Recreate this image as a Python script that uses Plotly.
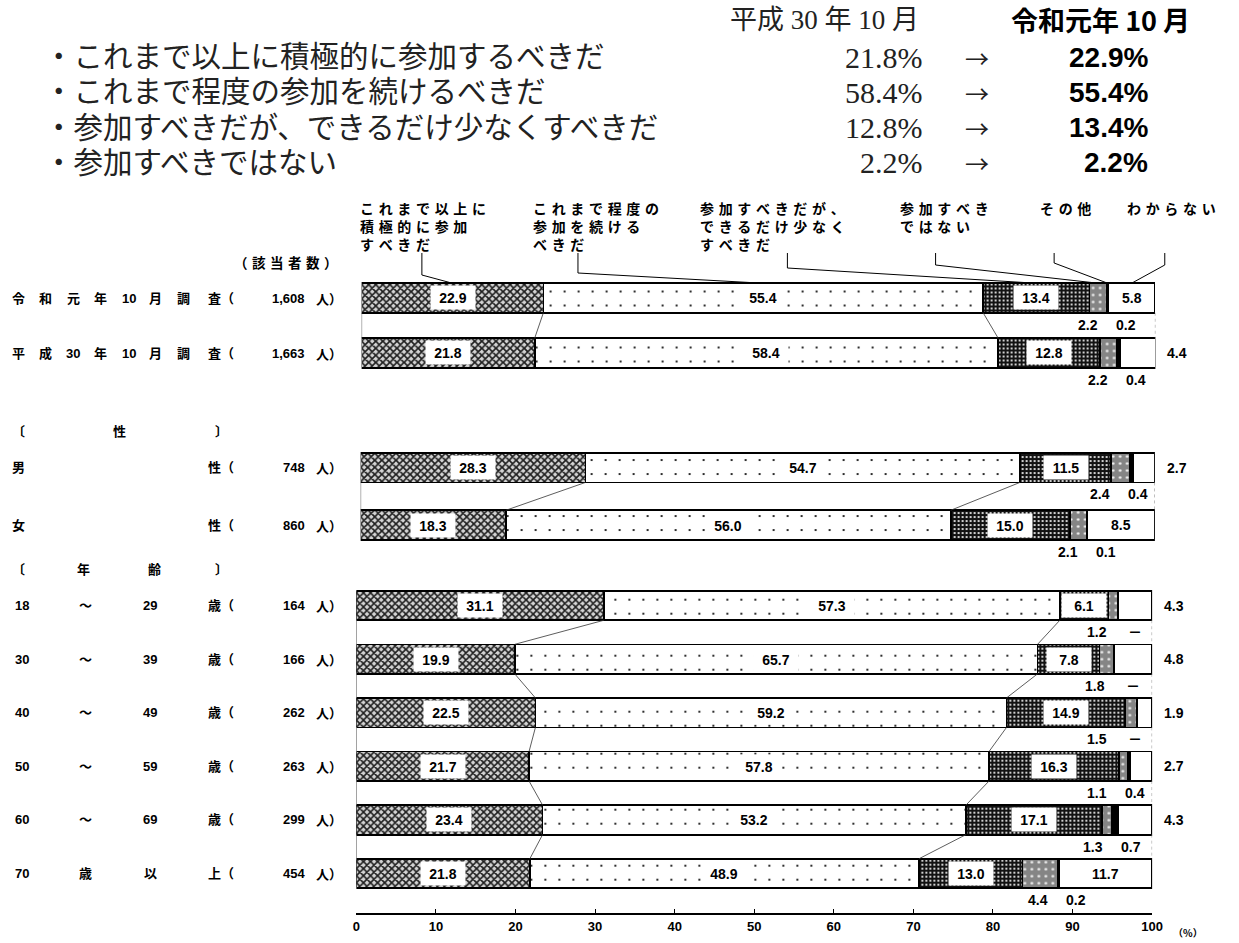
import plotly.graph_objects as go

W, H = 1239, 943

# ---------------- data ----------------
series_names = [
    "これまで以上に積極的に参加すべきだ",
    "これまで程度の参加を続けるべきだ",
    "参加すべきだが、できるだけ少なくすべきだ",
    "参加すべきではない",
    "その他",
    "わからない",
]
callout_lines = [
    ["これまで以上に", "積極的に参加", "すべきだ"],
    ["これまで程度の", "参加を続ける", "べきだ"],
    ["参加すべきだが、", "できるだけ少なく", "すべきだ"],
    ["参加すべき", "ではない"],
    ["その他"],
    ["わからない"],
]

row_heads = [
    ["令", "和", "元", "年", "10", "月", "調", "査（"],
    ["平", "成", "30", "年", "10", "月", "調", "査（"],
    ["男", "性（"],
    ["女", "性（"],
    ["18", "〜", "29", "歳（"],
    ["30", "〜", "39", "歳（"],
    ["40", "〜", "49", "歳（"],
    ["50", "〜", "59", "歳（"],
    ["60", "〜", "69", "歳（"],
    ["70", "歳", "以", "上（"],
]
respondents = ["1,608", "1,663", "748", "860", "164", "166", "262", "263", "299", "454"]

more_active = [22.9, 21.8, 28.3, 18.3, 31.1, 19.9, 22.5, 21.7, 23.4, 21.8]
same_level = [55.4, 58.4, 54.7, 56.0, 57.3, 65.7, 59.2, 57.8, 53.2, 48.9]
less_often = [13.4, 12.8, 11.5, 15.0, 6.1, 7.8, 14.9, 16.3, 17.1, 13.0]
should_not = [2.2, 2.2, 2.4, 2.1, 1.2, 1.8, 1.5, 1.1, 1.3, 4.4]
other = [0.2, 0.4, 0.4, 0.1, 0.0, 0.0, 0.0, 0.4, 0.7, 0.2]
dont_know = [5.8, 4.4, 2.7, 8.5, 4.3, 4.8, 1.9, 2.7, 4.3, 11.7]

series_values = [more_active, same_level, less_often, should_not, other, dont_know]

x_ticks = [0, 10, 20, 30, 40, 50, 60, 70, 80, 90, 100]

# summary block: current survey is row 0, previous survey is row 1
summary_items = [
    "これまで以上に積極的に参加するべきだ",
    "これまで程度の参加を続けるべきだ",
    "参加すべきだが、できるだけ少なくすべきだ",
    "参加すべきではない",
]
summary_prev = [s[1] for s in series_values[:4]]
summary_curr = [s[0] for s in series_values[:4]]

# ---------------- layout helpers ----------------
JP = "Noto Sans CJK JP"
SANS = "Liberation Sans, Noto Sans CJK JP"
SERIF = "Liberation Serif, Noto Sans CJK JP"
LABEL_FONT = dict(family=SANS, size=13, color="black", weight="bold")
VALUE_FONT = dict(family=SANS, size=14, color="black", weight="bold")
JP_FONT = dict(family=JP, size=13, color="black", weight="bold")
GAP = "\u2004"  # three-per-em space used for the wide letter spacing of small captions


def spaced(s):
    return GAP.join(s)


def px_x(px):
    return px / W


def px_y(py):
    return 1 - py / H


def note(x, y, text, font, xanchor="center", yanchor="middle", **kw):
    d = dict(x=x, y=y, xref=kw.pop("xref", "paper"), yref=kw.pop("yref", "paper"), text=text,
             showarrow=False, xanchor=xanchor, yanchor=yanchor, font=font)
    d.update(kw)
    return d


BAR_PX = 29.5
GROUPS = [
    dict(rows=[0, 1], x_px=(362.0, 1165.5), y_px=(298.0, 353.0), bottom_px=None, sfx="2"),
    dict(rows=[2, 3], x_px=(361.0, 1165.0), y_px=(467.7, 525.0), bottom_px=None, sfx="3"),
    dict(rows=[4, 5, 6, 7, 8, 9], x_px=(356.7, 1162.2), y_px=(605.5, 873.5), bottom_px=913.3, sfx=""),
]

STYLES = [
    dict(shape="x", bg="#d4d4d4", fg="#1e1e1e", size=5, solidity=0.55),
    dict(shape=".", bg="#ffffff", fg="#000000", size=14, solidity=0.02),
    dict(shape=".", bg="#121212", fg="#ffffff", size=4, solidity=0.22),
    dict(shape=".", bg="#858585", fg="#f4f4f4", size=7, solidity=0.12),
    dict(shape="", bg="#000000"),
    dict(shape="", bg="#ffffff"),
]

fig = go.Figure()
annotations = []
shapes = []
layout_axes = {}


def fmt(v):
    return "－" if v == 0 else f"{v:.1f}"


for g in GROUPS:
    rows = g["rows"]
    n = len(rows)
    spacing = (g["y_px"][1] - g["y_px"][0]) / (n - 1)
    top_px = g["y_px"][0] - spacing / 2
    bottom_px = g["bottom_px"] if g["bottom_px"] else g["y_px"][1] + spacing / 2
    bw = BAR_PX / spacing
    sfx = g["sfx"]
    xr, yr = "x" + sfx, "y" + sfx
    xa, ya = "xaxis" + sfx, "yaxis" + sfx
    layout_axes[xa] = dict(
        domain=[px_x(g["x_px"][0]), px_x(g["x_px"][1])], range=[0, 100],
        anchor=yr, showgrid=False, zeroline=False, fixedrange=True,
    )
    layout_axes[ya] = dict(
        domain=[px_y(bottom_px), px_y(top_px)],
        range=[(bottom_px - g["y_px"][0]) / spacing, -0.5],
        anchor=xr, visible=False, fixedrange=True,
    )
    if sfx == "":
        layout_axes[xa].update(
            showline=True, linecolor="black", linewidth=1.5,
            ticks="inside", ticklen=5, tickcolor="black", tickwidth=1.2,
            tickvals=x_ticks, tickfont=dict(family=SANS, size=13, color="black", weight="bold"),
        )
    else:
        layout_axes[xa].update(visible=False)

    idx = list(range(n))
    for s, vals in enumerate(series_values):
        st = STYLES[s]
        marker = dict(color=st["bg"], line=dict(color="black", width=1.7))
        if st["shape"]:
            marker["pattern"] = dict(shape=st["shape"], bgcolor=st["bg"], fgcolor=st["fg"],
                                     size=st["size"], solidity=st["solidity"], fillmode="replace")
        fig.add_trace(go.Bar(
            x=[vals[r] for r in rows], y=idx, orientation="h", width=bw,
            xaxis=xr, yaxis=yr, marker=marker, name=series_names[s],
            showlegend=False, hoverinfo="skip",
        ))

    # cumulative boundaries per row
    cums = []
    for r in rows:
        c, acc = [0.0], 0.0
        for vals in series_values:
            acc += vals[r]
            c.append(acc)
        cums.append(c)

    for i, r in enumerate(rows):
        c = cums[i]
        # values inside the bars
        for s in range(3):
            annotations.append(note(
                (c[s] + c[s + 1]) / 2, i, fmt(series_values[s][r]), VALUE_FONT,
                xref=xr, yref=yr, bgcolor="white", width=40, height=19, borderpad=2,
            ))
        v6 = dont_know[r]
        if v6 >= 5:
            annotations.append(note((c[5] + c[6]) / 2, i, fmt(v6), VALUE_FONT, xref=xr, yref=yr))
        else:
            annotations.append(note(100, i, fmt(v6), VALUE_FONT, xref=xr, yref=yr, xshift=22))
        # small categories below the bar
        centre = min(c[4], 95.5)
        for s, shift in ((3, -19), (4, 19)):
            annotations.append(note(
                centre, i + bw / 2, fmt(series_values[s][r]), VALUE_FONT, yanchor="top",
                xref=xr, yref=yr, xshift=shift, yshift=-2,
            ))

    # connector lines between consecutive bars
    for i in range(n - 1):
        y0, y1 = i + bw / 2, i + 1 - bw / 2
        for k in (1, 2):
            shapes.append(dict(type="line", xref=xr, yref=yr, x0=cums[i][k], y0=y0,
                               x1=cums[i + 1][k], y1=y1, line=dict(color="#333", width=0.8)))
        shapes.append(dict(type="line", xref=xr, yref=yr, x0=0, y0=y0, x1=0, y1=y1,
                           line=dict(color="#555", width=1)))
        shapes.append(dict(type="line", xref=xr, yref=yr, x0=100, y0=y0, x1=100, y1=y1,
                           line=dict(color="#888", width=1, dash="dot")))

    # row labels
    for i, r in enumerate(rows):
        ypos = px_y(g["y_px"][0] + i * spacing)
        heads = row_heads[r]
        if len(heads) == 8:
            cols = [15, 42, 70, 98, 127, 153, 182, 220]
        elif len(heads) == 2:
            cols = [15, 220]
        else:
            cols = [18, 82, 148, 220]
        for tok, cx in zip(heads, cols):
            annotations.append(note(px_x(cx), ypos, tok, LABEL_FONT))
        annotations.append(note(px_x(307), ypos, respondents[r], LABEL_FONT, xanchor="right"))
        annotations.append(note(px_x(314), ypos, "人）", JP_FONT, xanchor="left"))

# group headings
for tok, cx, cy in [("〔", 15, 430), ("性", 117, 430), ("〕", 220, 430),
                    ("〔", 15, 568), ("年", 80, 568), ("齢", 152, 568), ("〕", 220, 568)]:
    annotations.append(note(px_x(cx), px_y(cy), tok, JP_FONT))
annotations.append(note(px_x(285), px_y(262), spaced("（該当者数）"),
                        dict(family=JP, size=13.5, color="black", weight="bold")))

# callouts above the first bar
top = GROUPS[0]
c0, acc = [0.0], 0.0
for vals in series_values:
    acc += vals[0]
    c0.append(acc)
text_x = [358, 533, 703, 905, 1047, 1135]
lead_x = [423, 581, 793, 943, 1063, 1175]
bend_y = [275, 273, 268, 265, 263, 265]
bar_top = top["y_px"][0] - BAR_PX / 2
for s in range(6):
    text = "<br>".join(spaced(line) for line in callout_lines[s])
    annotations.append(note(px_x(text_x[s]), px_y(196), text,
                            dict(family=JP, size=14, color="black", weight="bold"),
                            xanchor="left", yanchor="top", align="left"))
    mid = (c0[s] + c0[s + 1]) / 2
    tx = px_x(top["x_px"][0] + mid / 100 * (top["x_px"][1] - top["x_px"][0]))
    path = (f"M {px_x(lead_x[s])},{px_y(253)} L {px_x(lead_x[s])},{px_y(bend_y[s])} "
            f"L {tx},{px_y(bar_top)}")
    shapes.append(dict(type="path", xref="paper", yref="paper", path=path,
                       line=dict(color="black", width=1)))

# summary block
annotations.append(note(px_x(733), px_y(20), "平成 30 年 10 月",
                        dict(family=SERIF, size=27, color="#222"), xanchor="left"))
annotations.append(note(px_x(1203), px_y(20), "<b>令和元年 10 月</b>",
                        dict(family=JP, size=27, color="black"), xanchor="right"))
for i, item in enumerate(summary_items):
    yy = px_y(57 + i * 35.3)
    annotations.append(note(px_x(38), yy, "・" + item,
                            dict(family=SERIF, size=29.5, color="#222"), xanchor="left"))
    annotations.append(note(px_x(932), yy, f"{summary_prev[i]:.1f}%",
                            dict(family=SERIF, size=30, color="#222"), xanchor="right"))
    annotations.append(note(px_x(985), yy, "→", dict(family=JP, size=24, color="#222")))
    annotations.append(note(px_x(1160), yy, f"<b>{summary_curr[i]:.1f}%</b>",
                            dict(family=SANS, size=28, color="black"), xanchor="right"))

annotations.append(note(px_x(1181), px_y(932), "（%）",
                        dict(family=JP, size=10, color="black", weight="bold"), xanchor="left"))

fig.update_layout(
    width=W, height=H, margin=dict(l=0, r=0, t=0, b=0),
    paper_bgcolor="white", plot_bgcolor="white", barmode="stack",
    annotations=annotations, shapes=shapes, showlegend=False,
    **layout_axes,
)

fig.write_html("out.html", config={"displayModeBar": False})
